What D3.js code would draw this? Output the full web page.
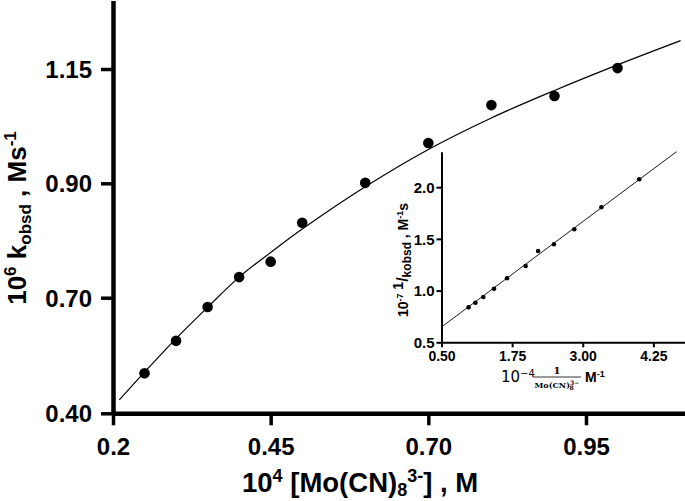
<!DOCTYPE html>
<html><head><meta charset="utf-8">
<script src="https://cdn.jsdelivr.net/npm/d3@7"></script>
<style>body{margin:0;background:#fff}svg{display:block}</style>
</head><body>
<svg id="c" width="685" height="501"></svg>
<script>
// ---- main panel data ----
const concX = [0.25,0.30,0.35,0.40,0.45,0.50,0.60,0.70,0.80,0.90,1.00];
const kObsd = [0.504,0.588,0.676,0.736,0.763,0.831,0.901,0.988,1.071,1.091,1.152];
const fitCurveX = [0.21,0.25,0.30,0.35,0.40,0.45,0.50,0.60,0.70,0.80,0.90,1.00,1.10];
const fitCurveY = [0.435,0.507,0.594,0.675,0.736,0.779,0.820,0.894,0.974,1.043,1.103,1.159,1.212];
const xTickVals = [0.2,0.45,0.70,0.95];
const xTickLabels = ["0.2","0.45","0.70","0.95"];
const yTickVals = [0.40,0.70,0.90,1.15];
const yTickLabels = ["0.40","0.70","0.90","1.15"];
// ---- inset data ----
const invConc = [0.98,1.10,1.24,1.43,1.66,1.99,2.21,2.49,2.85,3.33,4.00];
const invK = [0.838,0.883,0.938,1.018,1.119,1.238,1.383,1.448,1.593,1.806,2.076];
const lineX = [0.50,4.66];
const lineY = [0.648,2.343];
const ixTickVals = [0.50,1.75,3.00,4.25];
const ixTickLabels = ["0.50","1.75","3.00","4.25"];
const iyTickVals = [0.5,1.0,1.5,2.0];
const iyTickLabels = ["0.5","1.0","1.5","2.0"];

const svg = d3.select("#c");
const FONT = "'Liberation Sans', Arial, sans-serif";

// main scales (tick positions are evenly spaced although labels are not)
const x = d3.scaleLinear().domain([0.2,1.107]).range([113,685]);
const y = d3.scaleLinear().domain([0.40,0.70,0.90,1.15,1.30]).range([413.3,297.7,183.3,69,0.4]);

const gx = svg.append("g").attr("transform","translate(0,413.3)")
  .call(d3.axisBottom(x).tickValues(xTickVals).tickFormat((d,i)=>xTickLabels[i]).tickSize(12).tickSizeOuter(0).tickPadding(10));
const gy = svg.append("g").attr("transform","translate(113,0)")
  .call(d3.axisLeft(y).tickValues(yTickVals).tickFormat((d,i)=>yTickLabels[i]).tickSize(12).tickSizeOuter(0).tickPadding(9));
[gx,gy].forEach(g=>{
  g.select(".domain").attr("stroke","#000").attr("stroke-width",4.5);
  g.selectAll(".tick line").attr("stroke","#000").attr("stroke-width",3.5);
  g.selectAll(".tick text").attr("fill","#000").style("font-family",FONT).style("font-weight","bold").style("font-size","24px");
});
gx.selectAll(".tick text").attr("dy",null).attr("y",42);
gy.selectAll(".tick text").attr("dy","0.36em");

// fit curve
const curveData = fitCurveX.map((v,i)=>[v,fitCurveY[i]]);
svg.append("path").datum(curveData)
  .attr("d", d3.line().x(d=>x(d[0])).y(d=>y(d[1])).curve(d3.curveCatmullRom))
  .attr("fill","none").attr("stroke","#000").attr("stroke-width",1.2);
// points
svg.append("g").selectAll("circle").data(concX).join("circle")
  .attr("cx",(d)=>x(d)).attr("cy",(d,i)=>y(kObsd[i])).attr("r",5.3).attr("fill","#000");

// axis titles
const yt = svg.append("text").attr("transform","translate(26,218) rotate(-90)")
  .attr("text-anchor","middle").style("font-family",FONT).style("font-weight","bold").style("font-size","26px");
yt.append("tspan").text("10");
yt.append("tspan").attr("dy",-10).style("font-size","17px").text("6");
yt.append("tspan").attr("dy",10).text(" k");
yt.append("tspan").attr("dy",5).style("font-size","17px").text("obsd");
yt.append("tspan").attr("dy",-5).text(" , Ms");
yt.append("tspan").attr("dy",-10).style("font-size","17px").text("-1");

const xt = svg.append("text").attr("x",242).attr("y",492)
  .style("font-family",FONT).style("font-weight","bold").style("font-size","27.5px");
xt.append("tspan").text("10");
xt.append("tspan").attr("dy",-10).style("font-size","18px").text("4");
xt.append("tspan").attr("dy",10).text(" [Mo(CN)");
xt.append("tspan").attr("dy",4).style("font-size","18px").text("8");
xt.append("tspan").attr("dy",-14).style("font-size","18px").text("3-");
xt.append("tspan").attr("dy",10).text("] , M");

// ---- inset ----
const xi = d3.scaleLinear().domain([0.5,4.81]).range([441.5,685]);
const yi = d3.scaleLinear().domain([0.5,2.343]).range([342.3,151.7]);
const gxi = svg.append("g").attr("transform","translate(0,342.3)")
  .call(d3.axisBottom(xi).tickValues(ixTickVals).tickFormat((d,i)=>ixTickLabels[i]).tickSize(5).tickSizeOuter(0).tickPadding(4));
const gyi = svg.append("g").attr("transform","translate(441.5,0)")
  .call(d3.axisLeft(yi).tickValues(iyTickVals).tickFormat((d,i)=>iyTickLabels[i]).tickSize(5).tickSizeOuter(0).tickPadding(2));
[gxi,gyi].forEach(g=>{
  g.select(".domain").attr("stroke","#000").attr("stroke-width",2);
  g.selectAll(".tick line").attr("stroke","#000").attr("stroke-width",2);
  g.selectAll(".tick text").attr("fill","#000").style("font-family",FONT).style("font-weight","bold");
});
gxi.selectAll(".tick text").style("font-size","14px").attr("dy",null).attr("y",19);
gyi.selectAll(".tick text").style("font-size","15px").attr("dy","0.36em");

svg.append("path").datum(lineX.map((v,i)=>[v,lineY[i]]))
  .attr("d", d3.line().x(d=>xi(d[0])).y(d=>yi(d[1])))
  .attr("fill","none").attr("stroke","#000").attr("stroke-width",0.9);
svg.append("g").selectAll("circle").data(invConc).join("circle")
  .attr("cx",d=>xi(d)).attr("cy",(d,i)=>yi(invK[i])).attr("r",2.3).attr("fill","#000");

// inset y title
const iyt = svg.append("text").attr("transform","translate(408,260) rotate(-90)")
  .attr("text-anchor","middle").style("font-family",FONT).style("font-weight","bold").style("font-size","14px");
iyt.append("tspan").text("10");
iyt.append("tspan").attr("dy",-5).style("font-size","9px").text("-7");
iyt.append("tspan").text(" 1");
iyt.append("tspan").attr("dy",5).style("font-size","16px").text("/");
iyt.append("tspan").attr("dy",3).style("font-size","12px").text("kobsd");
iyt.append("tspan").attr("dy",-3).text(" , M");
iyt.append("tspan").attr("dy",-5).style("font-size","9px").text("-1");
iyt.append("tspan").attr("dy",5).text("s");

// inset x title
const ixt = svg.append("text").attr("x",501).attr("y",381.7)
  .style("font-family","'DejaVu Sans', sans-serif").style("font-size","15px");
ixt.append("tspan").text("10");
ixt.append("tspan").attr("dy",-5).style("font-size","10px").text("\u22124");
svg.append("text").attr("x",557).attr("y",374).attr("text-anchor","middle")
  .style("font-family","'DejaVu Serif', serif").style("font-weight","bold").style("font-size","10px").text("1");
svg.append("line").attr("x1",533).attr("x2",581).attr("y1",377).attr("y2",377).attr("stroke","#000").attr("stroke-width",0.8);
const den = svg.append("text").attr("x",534.5).attr("y",387.5)
  .style("font-family","'DejaVu Serif', serif").style("font-weight","bold").style("font-size","8px");
den.append("tspan").text("Mo(CN)");
den.append("tspan").attr("dy",-3).style("font-size","6px").text("3\u2212");
den.append("tspan").attr("x",569.5).attr("dy",5.5).style("font-size","6px").text("8");
const mt = svg.append("text").attr("x",585).attr("y",381.7)
  .style("font-family",FONT).style("font-weight","bold").style("font-size","14px");
mt.append("tspan").text("M");
mt.append("tspan").attr("dy",-5).style("font-size","9px").text("-1");
</script>
</body></html>
